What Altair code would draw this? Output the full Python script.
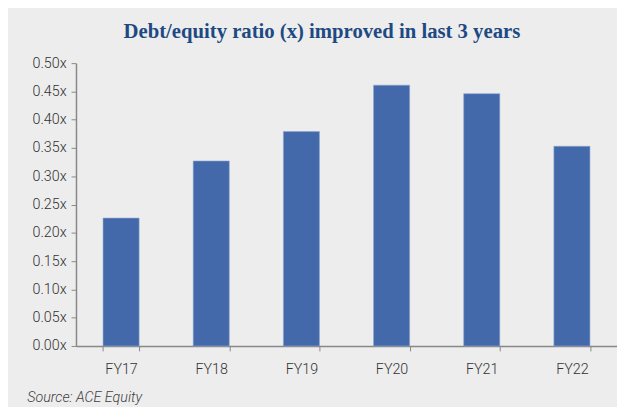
import altair as alt
import pandas as pd

years = ["FY17", "FY18", "FY19", "FY20", "FY21", "FY22"]
ratios = [0.226, 0.327, 0.379, 0.461, 0.446, 0.353]
y_ticks = [0.0, 0.05, 0.10, 0.15, 0.20, 0.25, 0.30, 0.35, 0.40, 0.45, 0.50]

df = pd.DataFrame({"year": years, "ratio": ratios})

chart = (
    alt.Chart(df)
    .mark_bar(color="#4469AB", stroke="#8AA3CF", strokeWidth=0.6)
    .encode(
        x=alt.X(
            "year:N",
            sort=years,
            scale=alt.Scale(paddingInner=0.6, paddingOuter=0.3),
            axis=alt.Axis(
                title="Source: ACE Equity",
                titleAnchor="start",
                titleAlign="left",
                titleX=-50,
                titleY=56,
                titleBaseline="alphabetic",
                titleFont="Roboto",
                titleFontSize=14.5,
                titleFontStyle="italic",
                titleFontWeight=300,
                titleColor="#404040",
                labelAngle=0,
                labelFont="Roboto",
                labelFontSize=14.5,
                labelFontWeight=300,
                labelColor="#333333",
                labelPadding=12,
                tickBand="extent",
                tickSize=5,
                tickColor="#888888",
                domainColor="#888888",
                domainWidth=1.5,
            ),
        ),
        y=alt.Y(
            "ratio:Q",
            scale=alt.Scale(domain=[0, 0.5], nice=False),
            axis=alt.Axis(
                title=None,
                values=y_ticks,
                labelExpr="format(datum.value, '.2f') + 'x'",
                labelFont="Roboto",
                labelFontSize=14.5,
                labelFontWeight=300,
                labelColor="#333333",
                labelPadding=5,
                tickSize=5,
                tickColor="#888888",
                domainColor="#888888",
                domainWidth=1.5,
                grid=False,
            ),
        ),
    )
    .properties(
        width=549,
        height=287,
        background="#EDEDED",
        padding={"left": 19, "top": 11, "right": 0, "bottom": 0},
        title=alt.TitleParams(
            "Debt/equity ratio (x) improved in last 3 years",
            font="Liberation Serif",
            fontSize=21,
            fontWeight="bold",
            color="#1D4A82",
            anchor="middle",
            frame="bounds",
            offset=13,
        ),
    )
    .configure_view(stroke=None)
)

chart.save("out.html", embed_options={"renderer": "svg", "actions": False})
